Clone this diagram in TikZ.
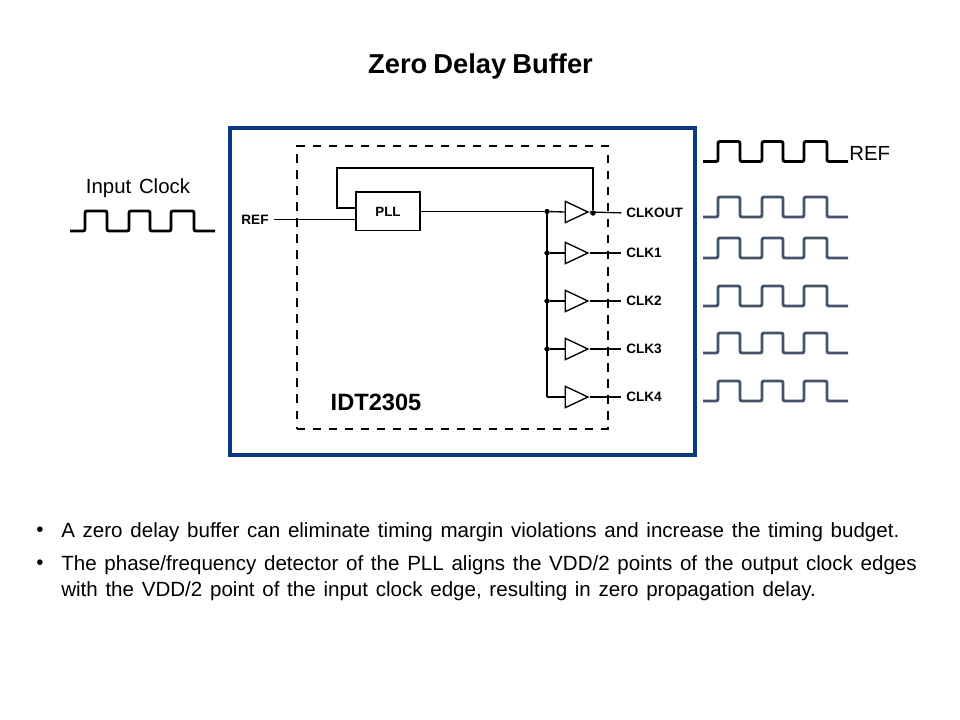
\documentclass[tikz,border=0pt]{standalone}
\usepackage{xcolor}
\usepackage{fontspec}
\setmainfont[WordSpace=1.35]{Liberation Sans}
\newfontfamily\titlefont[WordSpace=0.8]{Liberation Sans}
\usetikzlibrary{shapes.geometric, positioning}
\definecolor{framecolor}{HTML}{0B3A85}
\definecolor{wavecolor}{HTML}{44546A}
\tikzset {
    frame/.style = {
        draw = framecolor,
        line width=2.7pt,
        minimum width=348.75pt,
        minimum height=245.25pt
    },
    device/.style = {
        draw,
        dashed,
        dash pattern=on 6.2pt off 5.8pt,
        line width=1.5pt,
        minimum width=233.25pt,
        minimum height=211.5pt
    },
    pll/.style = {
        draw,
        line width=1pt,
        minimum width=48pt,
        minimum height=29pt,
        inner sep=0pt,
        font=\fontsize{10}{10}\selectfont\bfseries
    },
    buffer/.style = {
        draw,
        shape = isosceles triangle,
        isosceles triangle stretches,
        line width=1pt,
        minimum width=16pt,
        minimum height=17pt,
        inner sep=0pt
    },
    branch/.style = {
        draw,
        shape = circle,
        fill,
        inner sep=0pt,
        minimum size=3.5pt
    },
    pin/.style = {
        inner sep=0pt,
        font=\fontsize{10.2}{10.2}\selectfont\bfseries
    },
    wire/.style = {
        line width=1pt
    },
    pin wire/.style = {
        wire,
        shorten >=3.5pt
    },
    body/.style = {
        anchor=west,
        inner sep=0pt,
        font=\fontsize{15.42}{15.42}\selectfont
    },
    clock wave/.pic = {
        \draw [line width=2.2pt, rounded corners=1.5pt, pic actions]
            (0,0) -- (15,0) -- (15,-20) -- (37,-20) -- (37,0) -- (59,0) -- (59,-20)
            -- (80,-20) -- (80,0) -- (101,0) -- (101,-20) -- (124,-20) -- (124,0) -- (145,0);
    }
}
\begin{document}
\begin{tikzpicture}[x=0.75pt, y=-0.75pt]
        \useasboundingbox (0, 0) rectangle (960, 720);

        % Title and frames
        \node [font=\fontsize{20.5}{20.5}\selectfont\titlefont\bfseries] at (480.5, 66)  (title)  {Zero Delay Buffer};
        \node [frame]                               at (462.5, 291.5)    (chip)   {};
        \node [device]                              at (452.5, 287.5)    (idt)    {};
        \node [font=\fontsize{17.7}{17.7}\selectfont\bfseries] at (376, 402) (idtname) {IDT2305};

        % PLL row : input, pll, branch, buffer, output
        \node [pin]                                 at (255, 219.5)      (refpin) {REF};
        \node [pll]                                 at (388, 211.5)      (pll)    {PLL};
        \node [branch]                              at (547, 211.5)      (branch0) {};
        \node [buffer]                              at (572, 212)        (buf0)   {};
        \node [branch]                              at (593, 213)        (branchfb) {};
        \node [pin, anchor=west]                    at (626, 213)        (clkout) {CLKOUT};

        % Output rows : branch, buffer, label
        \node [branch]                              at (547, 253)        (branch1) {};
        \node [buffer]                              at (572, 253)        (buf1)   {};
        \node [pin, anchor=west]                    at (626, 253)        (clk1)   {CLK1};
        \node [branch]                              at (547, 301)        (branch2) {};
        \node [buffer]                              at (572, 301)        (buf2)   {};
        \node [pin, anchor=west]                    at (626, 301)        (clk2)   {CLK2};
        \node [branch]                              at (547, 349)        (branch3) {};
        \node [buffer]                              at (572, 349)        (buf3)   {};
        \node [pin, anchor=west]                    at (626, 349)        (clk3)   {CLK3};
        \coordinate                                 (branch4) at (547, 397);
        \node [buffer]                              at (572, 397)        (buf4)   {};
        \node [pin, anchor=west]                    at (626, 397)        (clk4)   {CLK4};

        % Free ends of the wires
        \coordinate (refin)   at (356, 219.5);
        \coordinate (fbin)    at (356, 208);
        \coordinate (fbleft)  at (337, 168);
        \coordinate (fbright) at (593, 168);
        \coordinate (pllout)  at (420, 211.5);

        \draw [wire, shorten <=3.5pt]    (refpin.east)  --  (refin);
        \draw [wire]    (pllout)    --  (branch0);
        \draw [wire]    (branch0)   --  (buf0.west);
        \draw [pin wire]    (buf0.apex) --  (clkout.west);
        \draw [wire]    (branch0)   --  (branch4);
        \draw [wire]    (branchfb)  --  (fbright)  --  (fbleft)  --  (fbleft |- fbin)  --  (fbin);

        \draw [wire]    (branch1)   --  (buf1.west);
        \draw [pin wire]    (buf1.apex) --  (clk1.west);
        \draw [wire]    (branch2)   --  (buf2.west);
        \draw [pin wire]    (buf2.apex) --  (clk2.west);
        \draw [wire]    (branch3)   --  (buf3.west);
        \draw [pin wire]    (buf3.apex) --  (clk3.west);
        \draw [wire]    (branch4)   --  (buf4.west);
        \draw [pin wire]    (buf4.apex) --  (clk4.west);

        % Clock waves
        \node [font=\fontsize{15.3}{15.3}\selectfont] at (138, 188) (inputlabel) {Input Clock};
        \pic [black]     at (70, 231)   {clock wave};
        \pic [black]     at (703, 161.5) {clock wave};
        \node [font=\fontsize{15.3}{15.3}\selectfont, anchor=west, inner sep=0pt] at (849, 153.5) (reflabel) {REF};
        \pic [wavecolor] at (703, 217)  {clock wave};
        \pic [wavecolor] at (703, 258)  {clock wave};
        \pic [wavecolor] at (703, 306)  {clock wave};
        \pic [wavecolor] at (703, 353)  {clock wave};
        \pic [wavecolor] at (703, 401)  {clock wave};

        % Bullets
        \node [body]    at (36, 532)    (bullet1)  {•};
        \node [body]    at (61, 532)    (line1)    {A zero delay buffer can eliminate timing margin violations and increase the timing budget.};
        \node [body]    at (36, 565)    (bullet2)  {•};
        \node [body]    at (61, 565)    (line2)    {The phase/frequency detector of the PLL aligns the VDD/2 points of the output clock edges};
        \node [body]    at (61, 591)    (line3)    {with the VDD/2 point of the input clock edge, resulting in zero propagation delay.};
\end{tikzpicture}
\end{document}
